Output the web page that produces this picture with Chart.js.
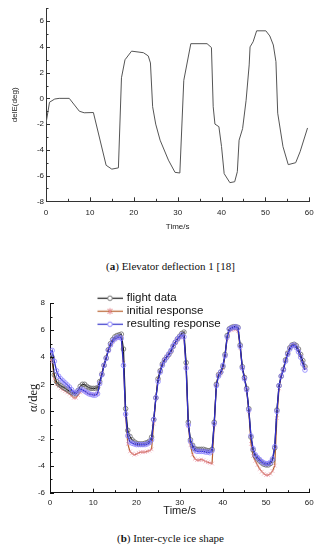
<!DOCTYPE html>
<html>
<head>
<meta charset="utf-8">
<script src="https://cdn.jsdelivr.net/npm/chart.js@4/dist/chart.umd.min.js"></script>
<style>
  body { margin: 0; width: 321px; height: 550px; background: #fff; position: relative; overflow: hidden; }
  .box { position: absolute; left: 0; width: 321px; }
  .cap { position: absolute; left: 0; width: 341px; text-align: center; font: 11px "Liberation Serif", "Times New Roman", serif; color: #111; line-height: 13px; }
</style>
</head>
<body>
<div class="box" style="top:0;height:232px"><canvas id="chartA"></canvas></div>
<div class="cap" style="top:260px">(<b>a</b>) Elevator deflection 1 [18]</div>
<div class="box" style="top:280px;height:238px"><canvas id="chartB"></canvas></div>
<div class="cap" style="top:532px">(<b>b</b>) Inter-cycle ice shape</div>
<script>
// (a) elevator deflection
const elevTime = [0, 0.8, 2, 3, 5.3, 7.6, 8.7, 10.8, 13.7, 15, 16.5, 17.2, 18, 19.5, 22.2, 23.3, 23.8, 24.3, 25, 26, 27.9, 29.4, 30.5,
  31.4, 33, 36.7, 37.7, 38.1, 38.5, 39.4, 40, 40.6, 41.9, 43, 43.6, 44, 44.8, 45.6, 46.3, 46.5, 47.2, 48, 50.1, 51, 51.8, 52.4,
  52.8, 54, 55.2, 56.9, 57.9, 59.6]
const elevDelE = [-1.95, -0.3, -0.05, 0, 0, -1.0, -1.12, -1.1, -5.2, -5.5, -5.4, 1.6, 3.0, 3.67, 3.55, 3.3, 2.75, -0.65, -2.0, -3.25, -4.8, -5.75, -5.8,
  1.4, 4.25, 4.25, 3.95, -0.65, -2.0, -2.2, -3.75, -5.85, -6.55, -6.48, -5.7, -3.25, -2.35, -0.15, 2.6, 4.0, 4.4, 5.25, 5.25, 4.85, 4.15, 2.85,
  -1.15, -3.75, -5.15, -5.0, -4.15, -2.3]

// (b) inter-cycle ice shape
const iceTime = [
  0, 0.5, 1, 1.5, 2, 2.5, 3, 3.5, 4, 4.5,
  5, 5.5, 6, 6.5, 7, 7.5, 8, 8.5, 9, 9.5,
  10, 10.5, 11, 11.5, 12, 12.5, 13, 13.5, 14, 14.5,
  15, 15.5, 16, 16.5, 17, 17.5, 18, 18.5, 19, 19.5,
  20, 20.5, 21, 21.5, 22, 22.5, 23, 23.5, 24, 24.5,
  25, 25.5, 26, 26.5, 27, 27.5, 28, 28.5, 29, 29.5,
  30, 30.5, 31, 31.5, 32, 32.5, 33, 33.5, 34, 34.5,
  35, 35.5, 36, 36.5, 37, 37.5, 38, 38.5, 39, 39.5,
  40, 40.5, 41, 41.5, 42, 42.5, 43, 43.5, 44, 44.5,
  45, 45.5, 46, 46.5, 47, 47.5, 48, 48.5, 49, 49.5,
  50, 50.5, 51, 51.5, 52, 52.5, 53, 53.5, 54, 54.5,
  55, 55.5, 56, 56.5, 57, 57.5, 58, 58.5, 59]
const flightData = [
  4.2, 4.0, 2.7, 2.2, 2.0, 1.9, 1.8, 1.7, 1.6, 1.5,
  1.4, 1.3, 1.3, 1.55, 1.85, 2.0, 2.0, 1.85, 1.75, 1.7,
  1.7, 1.7, 1.75, 2.2, 2.75, 3.4, 3.95, 4.55, 5.0, 5.3,
  5.5, 5.6, 5.65, 5.7, 4.6, 0.2, -1.4, -1.85, -2.1, -2.25,
  -2.35, -2.4, -2.4, -2.4, -2.35, -2.3, -2.2, -1.9, -0.6, 1.0,
  2.4, 3.0, 3.5, 3.8, 4.0, 4.2, 4.45, 4.8, 5.1, 5.35,
  5.55, 5.75, 5.85, 3.6, -0.8, -2.1, -2.5, -2.75, -2.8, -2.8,
  -2.8, -2.8, -2.85, -2.9, -2.9, -2.8, -0.8, 2.0, 2.7, 2.9,
  3.3, 4.2, 5.6, 6.1, 6.2, 6.25, 6.25, 6.2, 4.9, 3.3,
  2.5, 1.7, 0.2, -1.9, -2.85, -3.3, -3.5, -3.65, -3.8, -3.9,
  -3.95, -3.95, -3.85, -3.6, -2.7, 0.1, 1.9, 2.6, 3.1, 3.8,
  4.3, 4.7, 4.9, 4.95, 4.85, 4.6, 4.2, 3.75, 3.3]
const initialResponse = [
  3.8, 3.7, 2.4, 2.0, 1.85, 1.7, 1.6, 1.5, 1.4, 1.3,
  1.15, 1.0, 1.0, 1.2, 1.4, 1.55, 1.5, 1.4, 1.3, 1.25,
  1.25, 1.25, 1.3, 2.1, 2.8, 3.45, 3.95, 4.5, 4.9, 5.15,
  5.3, 5.4, 5.45, 5.4, 3.6, -0.3, -2.4, -2.95, -3.1, -3.2,
  -3.15, -3.05, -3.0, -3.0, -3.0, -2.95, -2.9, -2.8, -0.9, 1.0,
  2.4, 3.0, 3.5, 3.85, 4.05, 4.2, 4.4, 4.8, 5.05, 5.3,
  5.45, 5.6, 5.5, 3.3, -1.1, -2.5, -3.2, -3.5, -3.6, -3.6,
  -3.55, -3.6, -3.7, -3.75, -3.8, -3.85, -1.0, 2.0, 2.75, 2.8,
  3.2, 4.1, 5.4, 5.95, 6.0, 6.05, 6.05, 5.95, 4.7, 3.2,
  2.5, 1.6, 0.0, -2.4, -3.3, -3.65, -3.95, -4.25, -4.45, -4.6,
  -4.7, -4.7, -4.6, -4.4, -4.0, -0.5, 1.7, 2.6, 3.1, 3.8,
  4.3, 4.7, 4.9, 4.95, 4.8, 4.5, 4.1, 3.6, 3.2]
const resultingResponse = [
  4.3, 4.5, 3.7, 3.0, 2.6, 2.4, 2.25, 2.1, 1.95, 1.8,
  1.6, 1.4, 1.35, 1.5, 1.65, 1.6, 1.5, 1.4, 1.3, 1.25,
  1.2, 1.2, 1.3, 2.05, 2.7, 3.4, 3.9, 4.5, 4.9, 5.2,
  5.35, 5.45, 5.5, 5.4, 3.4, -0.2, -1.8, -2.25, -2.35, -2.4,
  -2.45, -2.45, -2.45, -2.45, -2.45, -2.4, -2.3, -2.1, -0.6, 1.0,
  2.2, 2.9, 3.4, 3.75, 4.0, 4.25, 4.5, 4.85, 5.1, 5.35,
  5.5, 5.65, 5.5, 3.2, -1.0, -2.2, -2.6, -2.85, -2.95, -2.95,
  -2.95, -2.95, -3.0, -3.0, -3.05, -2.9, -0.9, 1.9, 2.6, 2.9,
  3.4, 4.1, 5.5, 6.05, 6.15, 6.2, 6.25, 6.15, 4.8, 3.2,
  2.4, 1.6, 0.1, -1.8, -2.75, -3.2, -3.4, -3.55, -3.7, -3.8,
  -3.85, -3.85, -3.75, -3.5, -2.6, 0.0, 1.9, 2.6, 3.05, 3.7,
  4.2, 4.6, 4.85, 4.9, 4.7, 4.4, 4.0, 3.5, 3.05]

Chart.defaults.font.family = '"Liberation Sans", Arial, sans-serif'
Chart.defaults.color = '#222'

const toXY = (xs, ys) => xs.map((x, i) => ({ x: x, y: ys[i] }))
const evenOnly = v => (v % 2 === 0 ? String(v) : '')
const tensOnly = v => (v % 10 === 0 ? String(v) : '')

// short ticks drawn inside the plot, longer where a label sits
const inwardTicks = {
  id: 'inwardTicks',
  afterDraw(chart, args, opts) {
    const { ctx, chartArea } = chart
    ctx.save()
    ctx.strokeStyle = opts.color
    ctx.lineWidth = 1
    for (const id of ['x', 'y']) {
      const scale = chart.scales[id]
      scale.ticks.forEach(t => {
        const len = t.label !== '' ? opts.major : opts.minor
        const p = Math.round(scale.getPixelForValue(t.value)) + 0.5
        ctx.beginPath()
        if (id === 'x') {
          ctx.moveTo(p, chartArea.bottom)
          ctx.lineTo(p, chartArea.bottom - len)
        } else {
          ctx.moveTo(chartArea.left, p)
          ctx.lineTo(chartArea.left + len, p)
        }
        ctx.stroke()
      })
    }
    ctx.restore()
  }
}

// move the legend box to where the reference has it
const legendSpot = {
  id: 'legendSpot',
  afterLayout(chart, args, opts) {
    const lg = chart.legend
    if (!lg) return
    const w = lg.width, h = lg.height
    lg.left = opts.left
    lg.right = opts.left + w
    lg.top = opts.top
    lg.bottom = opts.top + h
  }
}

function axisStyle(color) {
  return {
    grid: { display: true, drawOnChartArea: false, drawTicks: false, color: 'transparent' },
    border: { display: true, color: color, width: 1 }
  }
}

new Chart(document.getElementById('chartA'), {
  type: 'scatter',
  data: {
    datasets: [{
      label: 'delE',
      data: toXY(elevTime, elevDelE),
      showLine: true,
      borderColor: '#555',
      borderWidth: 1,
      pointRadius: 0,
      tension: 0
    }]
  },
  options: {
    responsive: true,
    maintainAspectRatio: false,
    animation: false,
    layout: { padding: { top: 8.3, right: 11.7, left: 0, bottom: 0 } },
    plugins: {
      legend: { display: false },
      tooltip: { enabled: false },
      inwardTicks: { color: '#333', major: 4, minor: 2.5 }
    },
    scales: {
      x: {
        type: 'linear', min: 0, max: 60,
        ...axisStyle('#333'),
        ticks: { stepSize: 5, autoSkip: false, maxRotation: 0, padding: 6.2, font: { size: 8 }, callback: tensOnly },
        title: { display: true, text: 'Time/s', font: { size: 8 }, padding: 0 },
        afterFit: s => { s.height = 30.7 }
      },
      y: {
        min: -8, max: 7,
        ...axisStyle('#333'),
        ticks: { stepSize: 1, autoSkip: false, padding: 2, font: { size: 8 }, callback: evenOnly },
        title: { display: true, text: 'delE(deg)', font: { size: 8 }, padding: { top: 10, bottom: 0 } },
        afterFit: s => { s.width = 46 }
      }
    }
  },
  plugins: [inwardTicks]
})

function legendIcon(lineColor, mark) {
  const c = document.createElement('canvas')
  c.width = 26
  c.height = 9
  const g = c.getContext('2d')
  g.strokeStyle = lineColor
  g.lineWidth = 1.2
  g.beginPath()
  g.moveTo(0, 4.5)
  g.lineTo(26, 4.5)
  g.stroke()
  mark(g)
  return c
}
const ringMark = color => g => {
  g.fillStyle = '#fff'
  g.strokeStyle = color
  g.lineWidth = 0.9
  g.beginPath()
  g.arc(13, 4.5, 2.3, 0, Math.PI * 2)
  g.fill()
  g.stroke()
}
const starMark = color => g => {
  g.strokeStyle = color
  g.lineWidth = 1
  g.beginPath()
  g.moveTo(10.5, 2); g.lineTo(15.5, 7)
  g.moveTo(15.5, 2); g.lineTo(10.5, 7)
  g.moveTo(13, 1.5); g.lineTo(13, 7.5)
  g.stroke()
}
const icons = [
  legendIcon('#1a1a1a', ringMark('#666')),
  legendIcon('#b8612f', starMark('#e07a80')),
  legendIcon('#3030c8', ringMark('#8078ff'))
]

new Chart(document.getElementById('chartB'), {
  type: 'line',
  data: {
    datasets: [{
      label: 'flight data',
      data: toXY(iceTime, flightData),
      borderColor: '#1a1a1a',
      borderWidth: 1.2,
      pointStyle: 'circle',
      pointRadius: 2.3,
      pointBorderWidth: 0.8,
      pointBorderColor: '#6a6a6a',
      pointBackgroundColor: 'rgba(255,255,255,0)',
      order: 1
    }, {
      label: 'initial response',
      data: toXY(iceTime, initialResponse),
      borderColor: '#b8612f',
      borderWidth: 1.2,
      pointStyle: 'crossRot',
      pointRadius: 2.6,
      pointBorderWidth: 1,
      pointBorderColor: 'rgba(236,150,170,0.65)',
      order: 2
    }, {
      label: 'resulting response',
      data: toXY(iceTime, resultingResponse),
      borderColor: '#3030c8',
      borderWidth: 1.3,
      pointStyle: 'circle',
      pointRadius: 2.3,
      pointBorderWidth: 0.8,
      pointBorderColor: '#8a80ff',
      pointBackgroundColor: 'rgba(255,255,255,0)',
      order: 0
    }]
  },
  options: {
    responsive: true,
    maintainAspectRatio: false,
    animation: false,
    layout: { padding: { top: 23, right: 11.7, left: 0, bottom: 0 } },
    elements: { line: { tension: 0 } },
    plugins: {
      tooltip: { enabled: false },
      inwardTicks: { color: '#111', major: 4, minor: 2.5 },
      legendSpot: { left: 97.5, top: 11 },
      legend: {
        display: true,
        position: 'chartArea',
        align: 'start',
        labels: {
          usePointStyle: true,
          pointStyleWidth: 22,
          padding: 1.5,
          color: '#111',
          font: { size: 11.5 },
          generateLabels(chart) {
            const items = Chart.defaults.plugins.legend.labels.generateLabels(chart)
            items.sort((a, b) => a.datasetIndex - b.datasetIndex)
            items.forEach(it => { it.pointStyle = icons[it.datasetIndex] })
            return items
          }
        }
      }
    },
    scales: {
      x: {
        type: 'linear', min: 0, max: 60,
        ...axisStyle('#111'),
        ticks: { stepSize: 5, autoSkip: false, maxRotation: 0, padding: 4.8, font: { size: 8 }, callback: tensOnly },
        title: { display: true, text: 'Time/s', font: { size: 11 }, padding: 0 },
        afterFit: s => { s.height = 25.3 }
      },
      y: {
        min: -6, max: 8,
        ...axisStyle('#111'),
        ticks: { stepSize: 1, autoSkip: false, padding: 5, font: { size: 8 }, callback: evenOnly },
        title: { display: true, text: 'α/deg', font: { size: 12.5, family: '"Liberation Serif", "Times New Roman", serif' }, padding: { top: 26, bottom: 0 } },
        afterFit: s => { s.width = 50 }
      }
    }
  },
  plugins: [inwardTicks, legendSpot]
})
</script>
</body>
</html>
